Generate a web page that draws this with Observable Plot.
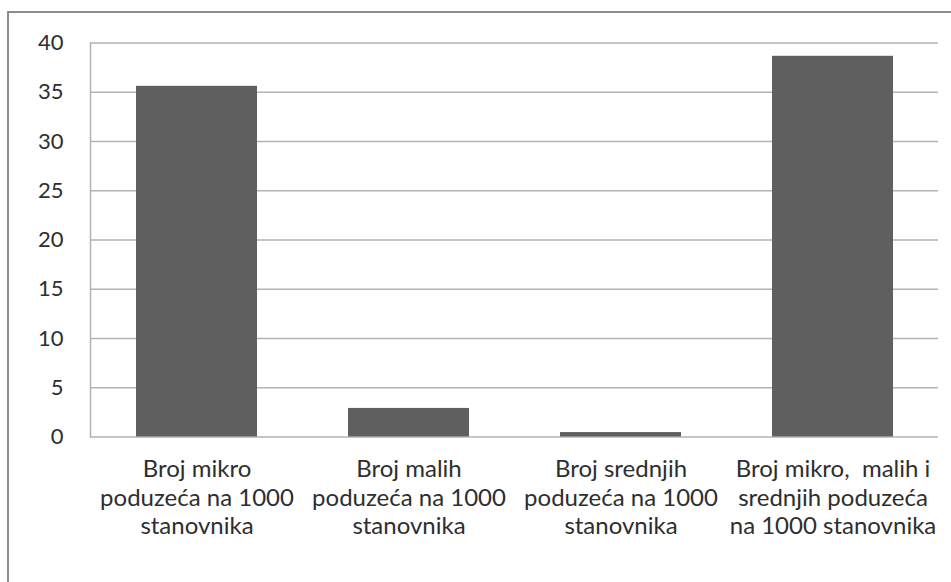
<!DOCTYPE html>
<html>
<head>
<meta charset="utf-8">
<script src="https://cdn.jsdelivr.net/npm/d3@7"></script>
<script src="https://cdn.jsdelivr.net/npm/@observablehq/plot@0.6"></script>
<style>
  html, body { margin: 0; padding: 0; background: #fff; }
  #wrap { position: relative; width: 951px; height: 582px; overflow: hidden; }
  #border { position: absolute; left: 7px; top: 11px; width: 1000px; height: 700px;
            border-top: 2px solid #8c8c8c; border-left: 2px solid #8c8c8c; box-sizing: border-box; }
  #chart { position: absolute; left: 0; top: 0; }
</style>
</head>
<body>
<div id="wrap"><div id="border"></div><div id="chart"></div></div>
<script>
const categories = [
  "Broj mikro\npoduzeća na 1000\nstanovnika",
  "Broj malih\npoduzeća na 1000\nstanovnika",
  "Broj srednjih\npoduzeća na 1000\nstanovnika",
  "Broj mikro,  malih i\nsrednjih poduzeća\nna 1000 stanovnika"
];
const values = [35.6, 2.9, 0.45, 38.65];
const yTicks = [0, 5, 10, 15, 20, 25, 30, 35, 40];

const data = categories.map((c, i) => ({category: c, value: values[i]}));

const chart = Plot.plot({
  width: 951,
  height: 582,
  marginLeft: 90,
  marginRight: 13,
  marginTop: 42.5,
  marginBottom: 145.5,
  style: {fontFamily: "Lato, sans-serif", color: "#2e2e2e", background: "transparent"},
  x: {domain: categories, paddingInner: 0.43, paddingOuter: 0.215, label: null},
  y: {domain: [0, 40], label: null},
  marks: [
    Plot.gridY(yTicks, {stroke: "#b3b3b3", strokeOpacity: 1, strokeWidth: 1.5}),
    Plot.frame({anchor: "left", stroke: "#b3b3b3", strokeWidth: 1.5}),
    Plot.barY(data, {x: "category", y: "value", fill: "#5f5f5f"}),
    Plot.axisY({ticks: yTicks, tickSize: 0, tickPadding: 27, fontSize: 22, fill: "#2e2e2e", label: null}),
    Plot.axisX({tickSize: 0, tickPadding: 20, fontSize: 24, lineHeight: 1.19, fill: "#2e2e2e", label: null})
  ]
});
document.getElementById("chart").appendChild(chart);
</script>
</body>
</html>
